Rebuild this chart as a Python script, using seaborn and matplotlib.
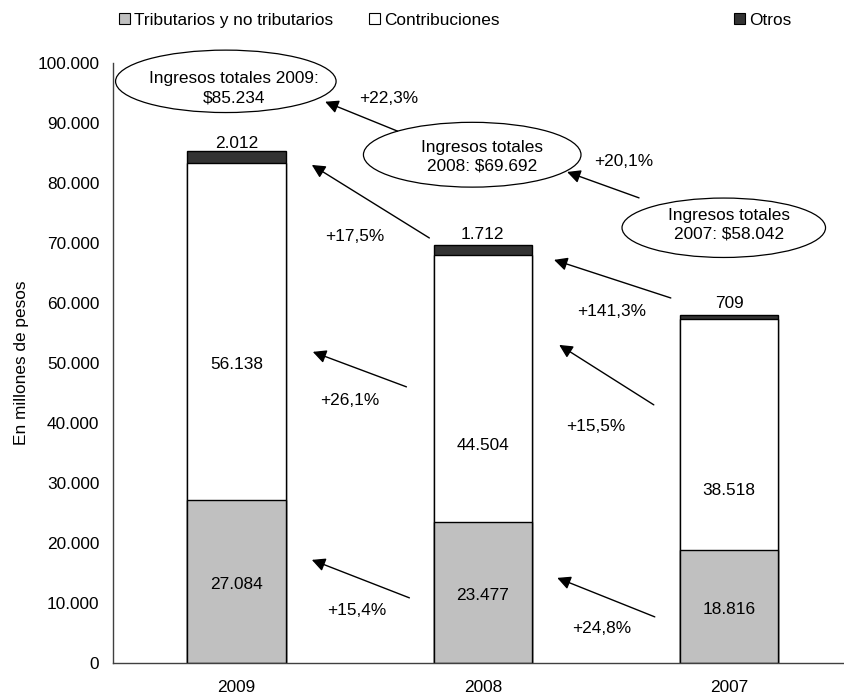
import pandas as pd
import seaborn as sns
import matplotlib.pyplot as plt
from matplotlib.patches import Ellipse, Patch

years = ['2009', '2008', '2007']
tributarios = [27084, 23477, 18816]
contribuciones = [56138, 44504, 38518]
otros = [2012, 1712, 709]
totales = [85234, 69692, 58042]
variaciones_total = ['+22,3%', '+20,1%']
variaciones_otros = ['+17,5%', '+141,3%']
variaciones_contrib = ['+26,1%', '+15,5%']
variaciones_trib = ['+15,4%', '+24,8%']

def fmt(v):
    return f"{v:,}".replace(',', '.')

df = pd.DataFrame({'year': years, 'trib': tributarios, 'contrib': contribuciones, 'otros': otros})
df['tc'] = df['trib'] + df['contrib']
df['total'] = df['tc'] + df['otros']

sns.set_style('white')
plt.rcParams['font.family'] = ['Liberation Sans', 'DejaVu Sans']
plt.rcParams['text.color'] = 'black'
plt.rcParams['axes.labelcolor'] = 'black'
plt.rcParams['xtick.color'] = 'black'
plt.rcParams['ytick.color'] = 'black'
FS = 12.4

fig = plt.figure(figsize=(8.45, 6.97), dpi=100)
ax = fig.add_axes([0.134, 0.049, 0.866, 0.861])

w = 0.4
sns.barplot(data=df, x='year', y='total', order=years, color='#333333', edgecolor='black', linewidth=1, width=w, ax=ax, zorder=2)
sns.barplot(data=df, x='year', y='tc', order=years, color='white', edgecolor='black', linewidth=1, width=w, ax=ax, zorder=2)
sns.barplot(data=df, x='year', y='trib', order=years, color='#c0c0c0', edgecolor='black', linewidth=1, width=w, ax=ax, zorder=2)

ax.set_xlim(-0.5, 2.47)
ax.set_ylim(0, 100000)
ax.set_yticks(range(0, 100001, 10000))
ax.set_yticklabels([fmt(v) for v in range(0, 100001, 10000)], fontsize=FS)
ax.set_xticks(range(3))
ax.set_xticklabels(years, fontsize=FS)
ax.set_xticks([-0.5, 0.5, 1.5], minor=True)
ax.tick_params(axis='x', which='major', length=0, pad=12)
ax.tick_params(axis='x', which='minor', length=5, direction='out', color='#404040')
ax.tick_params(axis='y', length=5, direction='out', color='#404040', pad=5)
ax.set_xlabel('')
ax.set_ylabel('En millones de pesos', fontsize=FS, labelpad=6)
for s in ['top', 'right']:
    ax.spines[s].set_visible(False)
for s in ['left', 'bottom']:
    ax.spines[s].set_color('#404040')
    ax.spines[s].set_linewidth(1)

# labels inside bars
contrib_label_y = [49700, 36200, 28700]
otros_label_off = [1300, 1750, 1900]
for i in range(3):
    ax.text(i, df['trib'][i] / 2 - 500, fmt(tributarios[i]), ha='center', va='center', fontsize=FS, zorder=5)
    ax.text(i, contrib_label_y[i], fmt(contribuciones[i]), ha='center', va='center', fontsize=FS, zorder=5)
    ax.text(i, totales[i] + otros_label_off[i], fmt(otros[i]), ha='center', va='center', fontsize=FS, zorder=5)

# ellipses with totals
ell_pos = [(-0.043, 96900), (0.957, 84670), (1.978, 72500)]
ell_size = [(0.895, 10400), (0.883, 10800), (0.826, 9900)]
txt_pos = [(-0.010, 95800), (0.998, 84330), (1.998, 73000)]
ell_text = ['Ingresos totales 2009:\n$' + fmt(totales[0]),
            'Ingresos totales\n2008: $' + fmt(totales[1]),
            'Ingresos totales\n2007: $' + fmt(totales[2])]
for (cx, cy), (ew, eh), (tx, ty), t in zip(ell_pos, ell_size, txt_pos, ell_text):
    ax.add_patch(Ellipse((cx, cy), ew, eh, facecolor='white', edgecolor='black', lw=0.9, zorder=4, clip_on=False))
    ax.text(tx, ty, t, ha='center', va='center', fontsize=FS, linespacing=1.35, zorder=5)

# arrows: (tail, head, label position, label)
arrows = [
    ((0.654, 88600), (0.360, 93500), (0.617, 94000), variaciones_total[0]),
    ((1.634, 77480), (1.342, 81800), (1.573, 83470), variaciones_total[1]),
    ((0.783, 70800), (0.306, 82970), (0.480, 70980), variaciones_otros[0]),
    ((1.763, 60800), (1.289, 67150), (1.524, 58480), variaciones_otros[1]),
    ((0.690, 45990), (0.310, 51820), (0.460, 43650), variaciones_contrib[0]),
    ((1.694, 42990), (1.310, 52980), (1.460, 39320), variaciones_contrib[1]),
    ((0.702, 10830), (0.306, 17160), (0.488, 8670), variaciones_trib[0]),
    ((1.698, 7660), (1.302, 14160), (1.484, 5670), variaciones_trib[1]),
]
for tail, head, lp, lab in arrows:
    ax.annotate('', xy=head, xytext=tail,
                arrowprops=dict(arrowstyle='-|>', color='black', lw=1, mutation_scale=20,
                                shrinkA=0, shrinkB=0), zorder=6)
    ax.text(lp[0], lp[1], lab, ha='center', va='center', fontsize=FS, zorder=5)

# legend on top
leg_items = [('Tributarios y no tributarios', '#c0c0c0', 0.141),
             ('Contribuciones', 'white', 0.437),
             ('Otros', '#333333', 0.869)]
for lab, col, xpos in leg_items:
    lg = fig.legend(handles=[Patch(facecolor=col, edgecolor='black', lw=0.8)], labels=[lab],
                    loc='center left', bbox_to_anchor=(xpos, 0.971), frameon=False,
                    handlelength=0.65, handleheight=0.65, handletextpad=0.2, fontsize=FS,
                    borderaxespad=0, borderpad=0)

fig.savefig('out.png', dpi=100)
